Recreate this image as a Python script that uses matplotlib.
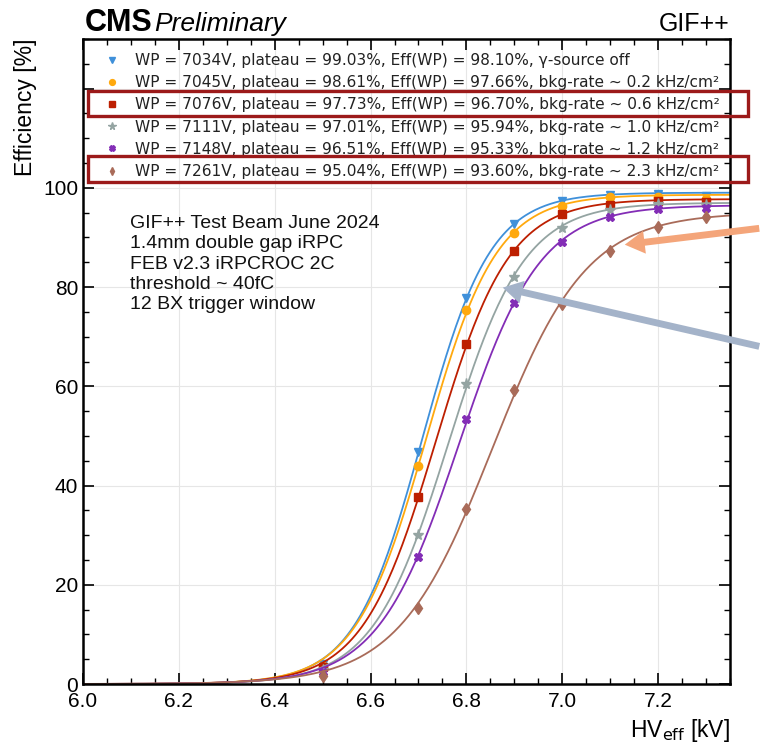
import numpy as np
import matplotlib
matplotlib.use('Agg')
import matplotlib.pyplot as plt
from matplotlib.patches import Rectangle, FancyArrowPatch
from matplotlib.ticker import MultipleLocator, FuncFormatter

plt.rcParams['font.family'] = 'Liberation Sans'

# HV scan points [kV]
hv = [6.5, 6.7, 6.8, 6.9, 7.0, 7.1, 7.2, 7.3]

# efficiency [%] per background condition
eff_off = [4.0, 46.8, 77.8, 92.7, 97.3, 98.6, 98.8, 98.4]
eff_02 = [3.7, 44.0, 75.4, 90.9, 96.4, 98.1, 98.1, 97.8]
eff_06 = [3.4, 37.6, 68.5, 87.2, 94.7, 96.6, 97.4, 97.1]
eff_10 = [2.9, 30.0, 60.5, 82.0, 91.9, 95.6, 96.7, 96.6]
eff_12 = [2.5, 25.6, 53.5, 76.7, 89.0, 94.1, 95.7, 95.9]
eff_23 = [1.6, 15.3, 35.2, 59.3, 76.6, 87.2, 92.1, 94.1]

plateaus = [99.03, 98.61, 97.73, 97.01, 96.51, 95.04]
labels = [
    'WP = 7034V, plateau = 99.03%, Eff(WP) = 98.10%, γ-source off',
    'WP = 7045V, plateau = 98.61%, Eff(WP) = 97.66%, bkg-rate ~ 0.2 kHz/cm²',
    'WP = 7076V, plateau = 97.73%, Eff(WP) = 96.70%, bkg-rate ~ 0.6 kHz/cm²',
    'WP = 7111V, plateau = 97.01%, Eff(WP) = 95.94%, bkg-rate ~ 1.0 kHz/cm²',
    'WP = 7148V, plateau = 96.51%, Eff(WP) = 95.33%, bkg-rate ~ 1.2 kHz/cm²',
    'WP = 7261V, plateau = 95.04%, Eff(WP) = 93.60%, bkg-rate ~ 2.3 kHz/cm²',
]
colors = ['#3f90da', '#ffa90e', '#bd1f01', '#94a4a2', '#832db6', '#a96b59']
markers = ['v', 'o', 's', '*', 'X', 'd']
all_eff = [eff_off, eff_02, eff_06, eff_10, eff_12, eff_23]

fig = plt.figure(figsize=(7.6, 7.43), dpi=100)
ax = fig.add_axes([83/760, 1-684/743, (730-83)/760, (684-39)/743])

x_fit = np.linspace(6.0, 7.35, 400)
x = np.array(hv)
for eff, plat, lab, col, mk in zip(all_eff, plateaus, labels, colors, markers):
    e = np.array(eff)
    # sigmoid fit with fixed plateau: linearised via logit
    ok = (e > 0.01*plat) & (e < 0.995*plat)
    logit = np.log(e[ok] / (plat - e[ok]))
    w = e[ok] * (plat - e[ok]) / plat
    slope, icpt = np.polyfit(x[ok], logit, 1, w=w)
    ax.plot(x_fit, plat / (1 + np.exp(-(slope*x_fit + icpt))), color=col, lw=1.3)
    ax.plot(x, e, linestyle='none', marker=mk, color=col, ms=6 if mk != '*' else 8,
            label=lab)

ax.set_xlim(6.0, 7.35)
ax.set_ylim(0, 130)
ax.xaxis.set_major_locator(MultipleLocator(0.2))
ax.xaxis.set_minor_locator(MultipleLocator(0.05))
ax.yaxis.set_major_locator(MultipleLocator(20))
ax.yaxis.set_minor_locator(MultipleLocator(5))
ax.yaxis.set_major_formatter(FuncFormatter(lambda v, p: f'{v:.0f}' if v <= 100 else ''))
ax.xaxis.set_major_formatter(FuncFormatter(lambda v, p: f'{v:.1f}'))
ax.tick_params(which='both', direction='in', top=True, right=True, labelsize=15)
ax.tick_params(which='major', length=8, width=1.2)
ax.tick_params(which='minor', length=4, width=1.0)
ax.tick_params(axis='x', pad=6)
for sp in ax.spines.values():
    sp.set_linewidth(1.8)
ax.grid(True, which='major', color='#e6e6e6', lw=0.8)
ax.set_axisbelow(True)

ax.set_ylabel('Efficiency [%]', fontsize=16.5, loc='top')
ax.set_xlabel(r'HV$_{\mathrm{eff}}$ [kV]', fontsize=16.5, loc='right')

leg = ax.legend(loc='upper left', bbox_to_anchor=(0.025, 0.988), frameon=False,
                prop={'family': 'DejaVu Sans', 'size': 11.1}, handlelength=0.8,
                handletextpad=1.1, labelspacing=0.47, borderaxespad=0, markerscale=0.7)
for t in leg.get_texts():
    t.set_color('#222222')

ax.text(0.072, 0.727, 'GIF++ Test Beam June 2024\n1.4mm double gap iRPC\n'
        'FEB v2.3 iRPCROC 2C\nthreshold ~ 40fC\n12 BX trigger window',
        transform=ax.transAxes, fontsize=14, va='top', ha='left', linespacing=1.25,
        color='#111111')

fig.text(85/760, 1-31/743, 'CMS', fontsize=22, fontweight='bold', ha='left', va='baseline')
fig.text(154/760, 1-31/743, 'Preliminary', fontsize=19, style='italic', ha='left', va='baseline')
fig.text(729/760, 1-31/743, 'GIF++', fontsize=18, ha='right', va='baseline')

# highlight boxes around two legend entries
for top, bot in [(91, 116), (156, 182)]:
    fig.add_artist(Rectangle((88/760, 1-bot/743), 660/760, (bot-top)/743,
                             transform=fig.transFigure, fill=False,
                             edgecolor='#9c1a1a', lw=2.4))

# arrows
for tail, head, col in [((762, 228), (622, 245), '#f4a57a'),
                        ((762, 347), (500, 287), '#a4b3c9')]:
    fig.add_artist(FancyArrowPatch((tail[0]/760, 1-tail[1]/743), (head[0]/760, 1-head[1]/743),
                                   transform=fig.transFigure,
                                   arrowstyle='simple,head_length=1.3,head_width=1.5,tail_width=0.45',
                                   mutation_scale=11, color=col, lw=0))

fig.savefig('out.png', dpi=100)
